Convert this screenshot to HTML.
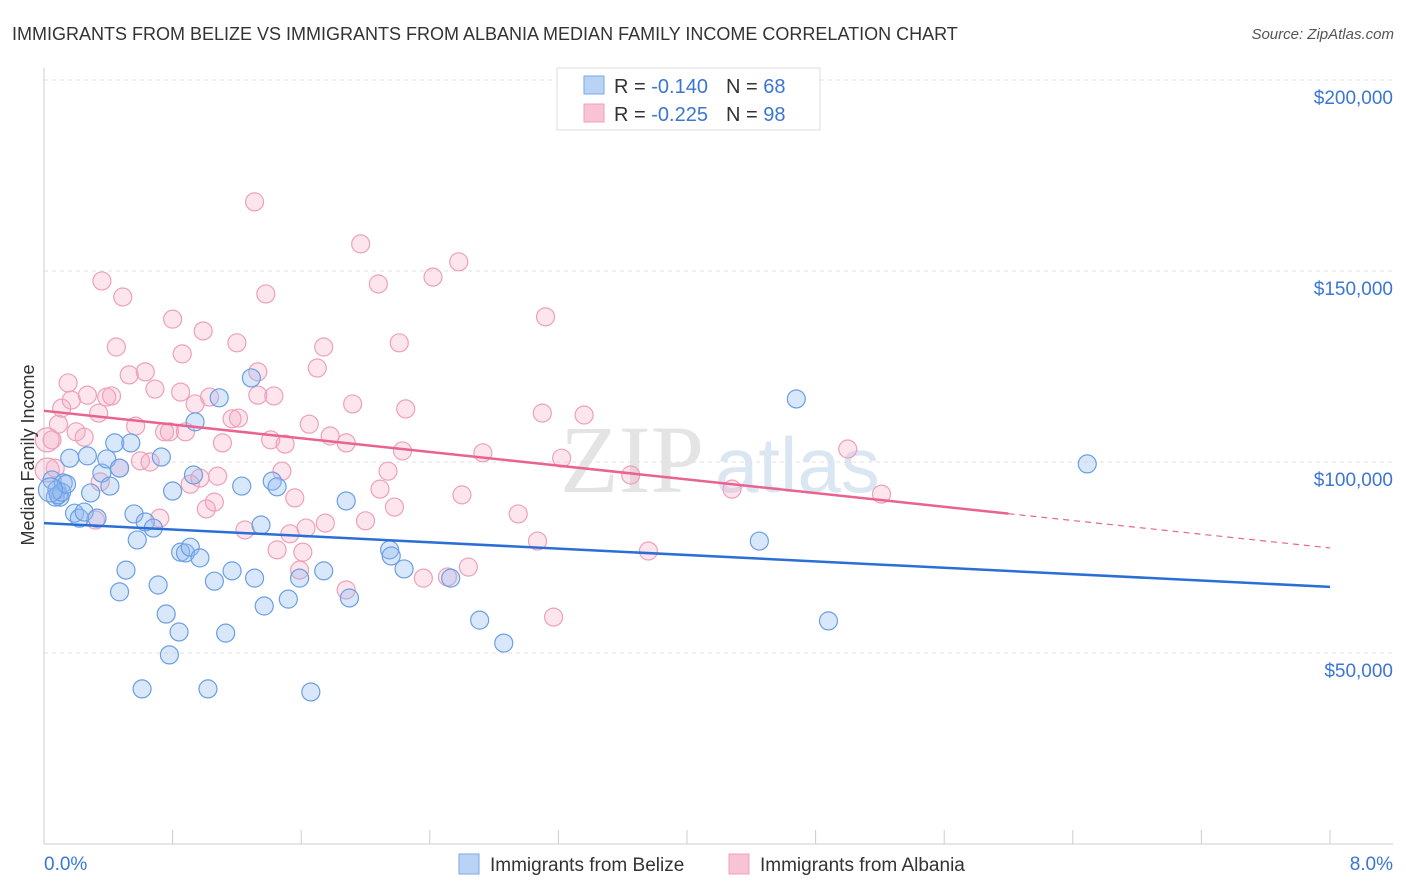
<!DOCTYPE html>
<html><head><meta charset="utf-8"><style>
body{margin:0;background:#fff;font-family:"Liberation Sans",sans-serif;}
svg{display:block}
</style></head><body>
<svg id="chart" width="1406" height="892" xmlns="http://www.w3.org/2000/svg">
<text x="12" y="40" font-size="18" fill="#333">IMMIGRANTS FROM BELIZE VS IMMIGRANTS FROM ALBANIA MEDIAN FAMILY INCOME CORRELATION CHART</text>
<text x="1394" y="39" font-size="15" fill="#555" font-style="italic" text-anchor="end">Source: ZipAtlas.com</text>
<text x="560" y="492" font-size="96" fill="#e4e4e4" font-family="Liberation Serif,serif">ZIP</text>
<text x="715" y="492" font-size="78" fill="#dbe6f3">atlas</text>
<g id="grid"></g>
<g id="axes"></g>
<g id="points"></g>
<g id="lines"></g>
<text transform="translate(34,455) rotate(-90)" font-size="18" fill="#333" text-anchor="middle">Median Family Income</text>
<g>
<rect x="557" y="68" width="263" height="62" fill="#fff" stroke="#ddd"/>
<rect x="584" y="76" width="20" height="18" fill="#b9d3f5" stroke="#7aaae6"/>
<rect x="584" y="104" width="20" height="18" fill="#f8c3d4" stroke="#eea0ba"/>
<text x="614" y="93" font-size="20" fill="#333">R = <tspan fill="#3b76d4">-0.140</tspan><tspan dx="18">N = </tspan><tspan fill="#3b76d4">68</tspan></text>
<text x="614" y="121" font-size="20" fill="#333">R = <tspan fill="#3b76d4">-0.225</tspan><tspan dx="18">N = </tspan><tspan fill="#3b76d4">98</tspan></text>
</g>
<g>
<rect x="459" y="854" width="20" height="20" fill="#b9d3f5" stroke="#7aaae6"/>
<text x="490" y="871" font-size="19" fill="#333">Immigrants from Belize</text>
<rect x="729" y="854" width="20" height="20" fill="#f8c3d4" stroke="#eea0ba"/>
<text x="760" y="871" font-size="19" fill="#333">Immigrants from Albania</text>
</g>
</svg>
<script>
const yTicks=[50000,100000,150000,200000];
const yTickLabels=["$50,000","$100,000","$150,000","$200,000"];
const xTickLabels=["0.0%","8.0%"];
const belizeX=[0.05,0.10,0.08,0.12,0.16,0.19,0.22,0.25,0.27,0.29,0.33,0.36,0.39,0.41,0.44,0.47,0.51,0.47,0.54,0.56,0.58,0.61,0.63,0.68,0.71,0.73,0.76,0.78,0.80,0.84,0.85,0.88,0.91,0.93,0.94,0.97,1.02,1.06,1.09,1.13,1.17,1.23,1.29,1.31,1.35,1.37,1.42,1.45,1.52,1.59,1.66,1.74,1.88,1.90,2.15,2.16,2.24,2.53,2.71,2.86,4.45,4.68,4.88,6.49,0.07,0.09,0.11,0.14,0.04];
const belizeY=[95.3,90.8,92.7,94.5,101.0,86.6,85.3,86.9,101.6,91.9,85.3,97.1,100.8,93.7,105.0,98.4,71.7,66.0,105.0,86.4,79.6,40.6,84.3,82.7,67.8,101.3,60.2,49.5,92.4,55.5,76.4,76.2,77.7,96.6,110.5,74.9,40.6,68.8,116.8,55.2,71.5,93.7,122.0,69.6,83.5,62.3,95.0,93.5,64.1,69.6,39.8,71.5,89.8,64.4,77.0,75.4,72.0,69.6,58.6,52.6,79.3,116.5,58.4,99.5,90.8,91.4,92.1,94.2,92.7];
const albaniaX=[0.05,0.07,0.09,0.11,0.15,0.17,0.20,0.25,0.27,0.32,0.34,0.35,0.36,0.39,0.42,0.45,0.47,0.49,0.53,0.57,0.60,0.63,0.66,0.69,0.72,0.75,0.78,0.80,0.85,0.86,0.88,0.91,0.94,0.97,0.99,1.01,1.03,1.06,1.08,1.11,1.17,1.20,1.21,1.25,1.31,1.33,1.33,1.38,1.41,1.43,1.45,1.48,1.50,1.53,1.56,1.59,1.61,1.63,1.65,1.70,1.74,1.75,1.78,1.88,1.88,1.92,1.97,2.00,2.08,2.09,2.14,2.18,2.21,2.23,2.25,2.36,2.42,2.51,2.58,2.60,2.64,2.73,2.95,3.07,3.10,3.12,3.17,3.22,3.36,3.65,3.76,4.28,5.00,5.21,0.02,0.02];
const albaniaY=[105.8,98.4,109.9,114.1,120.7,116.2,107.9,106.5,117.5,84.8,112.8,94.8,147.4,117.0,117.3,130.1,98.4,143.2,122.8,109.4,100.3,123.6,100.0,119.1,85.3,107.9,107.9,137.4,118.3,128.3,107.9,94.2,115.2,95.8,134.3,87.7,117.0,89.5,96.3,105.0,111.3,131.2,111.5,82.2,168.1,117.5,123.6,144.0,105.8,117.3,77.0,97.6,104.7,81.2,90.6,71.7,76.4,82.7,109.9,124.6,130.1,84.0,106.8,105.0,66.5,115.2,157.1,84.6,146.6,92.9,97.6,88.2,131.2,102.9,113.9,69.6,148.4,69.9,152.4,91.4,72.5,102.4,86.4,79.3,112.8,138.0,59.4,101.0,112.3,96.6,76.7,92.9,103.4,91.6,105.8,97.9];
const trendStart=[84.0,113.4];
const trendEnd=[67.3,77.5];
const albaniaSolidEnd=6.0;

const X=v=>44+v*(1330-44)/8;
const Y=k=>844-k*1000*191/50000;
const NS="http://www.w3.org/2000/svg";
function mk(tag,attrs,parent){const e=document.createElementNS(NS,tag);for(const k in attrs)e.setAttribute(k,attrs[k]);parent.appendChild(e);return e;}
const grid=document.getElementById('grid'),axes=document.getElementById('axes'),pts=document.getElementById('points'),lines=document.getElementById('lines');
yTicks.forEach((t,i)=>{
 const y=Y(t/1000);
 const g=mk('line',{x1:44,x2:1393,y1:y,y2:y,stroke:'#e2e2e2','stroke-dasharray':'4,4'},grid);
 
 
 const tx=mk('text',{x:1393,y:y+24,'font-size':19,fill:'#3b76d4','text-anchor':'end'},axes);
 tx.textContent=yTickLabels[i];
 
 
});
const ax=mk('line',{x1:44,x2:44,y1:68,y2:844,stroke:'#ccc'},axes);


const bx=mk('line',{x1:44,x2:1393,y1:844,y2:844,stroke:'#ccc'},axes);


for(let i=1;i<=10;i++){
 const x=X(i*0.8);
 const t=mk('line',{x1:x,x2:x,y1:830,y2:844,stroke:'#ccc'},axes);
 
 
}
const xl0=mk('text',{x:44,y:870,'font-size':19,fill:'#3b76d4'},axes);
xl0.textContent=xTickLabels[0];


const xl1=mk('text',{x:1393,y:870,'font-size':19,fill:'#3b76d4','text-anchor':'end'},axes);
xl1.textContent=xTickLabels[1];


albaniaX.forEach((v,i)=>{
 const c=mk('circle',{cx:X(v),cy:Y(albaniaY[i]),r:(v<0.03?12:9),fill:'rgba(244,170,195,0.3)',stroke:'#eea0ba','stroke-width':1.2},pts);
 
 
});
belizeX.forEach((v,i)=>{
 const c=mk('circle',{cx:X(v),cy:Y(belizeY[i]),r:(v<0.045?12:9),fill:'rgba(147,187,240,0.35)',stroke:'#6a9fe3','stroke-width':1.2},pts);
 
 
});
const bl=mk('line',{x1:X(0),y1:Y(trendStart[0]),x2:X(8),y2:Y(trendEnd[0]),stroke:'#2b6fd6','stroke-width':2.5},lines);


const pm=trendStart[1]+(trendEnd[1]-trendStart[1])*albaniaSolidEnd/8;
const pl=mk('line',{x1:X(0),y1:Y(trendStart[1]),x2:X(albaniaSolidEnd),y2:Y(pm),stroke:'#e8638e','stroke-width':2.5},lines);


const pd=mk('line',{x1:X(albaniaSolidEnd),y1:Y(pm),x2:X(8),y2:Y(trendEnd[1]),stroke:'#e8638e','stroke-width':1.2,'stroke-dasharray':'6,5'},lines);


</script>
</body></html>
